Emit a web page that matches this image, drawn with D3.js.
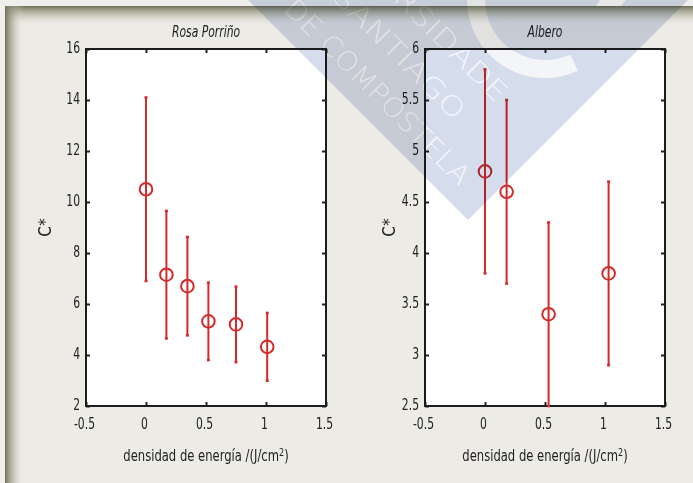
<!DOCTYPE html>
<html>
<head>
<meta charset="utf-8">
<script src="https://cdn.jsdelivr.net/npm/d3@7/dist/d3.min.js"></script>
<style>
  html, body { margin: 0; padding: 0; background: #ecebe6; }
  svg { display: block; }
</style>
</head>
<body>
<svg id="chart" width="693" height="483"></svg>
<script>
// Energy density (J/cm2) and chroma C* for each stone, with error half-widths
const energyRosa = [0, 0.17, 0.345, 0.52, 0.75, 1.01];
const chromaRosa = [10.5, 7.15, 6.7, 5.32, 5.2, 4.32];
const errRosa    = [3.6, 2.5, 1.93, 1.52, 1.48, 1.33];

const energyAlbero = [0, 0.18, 0.53, 1.03];
const chromaAlbero = [4.8, 4.6, 3.4, 3.8];
const errAlbero    = [1.0, 0.9, 0.9, 0.9];

const xTicks = [-0.5, 0, 0.5, 1, 1.5];
const yTicksRosa = [2, 4, 6, 8, 10, 12, 14, 16];
const yTicksAlbero = [2.5, 3, 3.5, 4, 4.5, 5, 5.5, 6];

const titles = ["Rosa Porriño", "Albero"];
const xLabel = "densidad de energía /(J/cm";
const yLabel = "C*";
const watermarkLines = ["UNIVERSIDADE", "DE SANTIAGO", "DE COMPOSTELA"];

(function draw() {
  const W = 693, H = 483;
  const RED = "#d42a2c";
  const INK = "#222";
  const FONT = '"Liberation Sans Narrow", "DejaVu Sans Condensed", "Arial Narrow", sans-serif';
  const SQUEEZE = 0.8;   // horizontal condensing of the label face

  const svg = d3.select("#chart");
  const defs = svg.append("defs");

  // page frame with soft inset shadow
  svg.append("rect").attr("width", W).attr("height", H).attr("fill", "#ecebe6");
  svg.append("rect").attr("width", W).attr("height", 6).attr("fill", "#efefeb");
  svg.append("rect").attr("width", 5).attr("height", H).attr("fill", "#efefeb");

  function shadow(id, horizontal) {
    const gr = defs.append("linearGradient").attr("id", id)
      .attr("x1", 0).attr("y1", 0).attr("x2", horizontal ? 1 : 0).attr("y2", horizontal ? 0 : 1);
    gr.append("stop").attr("offset", 0).attr("stop-color", "#6f6f58").attr("stop-opacity", 1);
    gr.append("stop").attr("offset", 0.15).attr("stop-color", "#86866f").attr("stop-opacity", 0.85);
    gr.append("stop").attr("offset", 0.5).attr("stop-color", "#a8a894").attr("stop-opacity", 0.45);
    gr.append("stop").attr("offset", 1).attr("stop-color", "#ecebe6").attr("stop-opacity", 0);
  }
  shadow("shTop", false);
  shadow("shLeft", true);
  svg.append("rect").attr("x", 5).attr("y", 6).attr("width", W - 5).attr("height", 20).attr("fill", "url(#shTop)");
  svg.append("rect").attr("x", 5).attr("y", 6).attr("width", 19).attr("height", H - 6).attr("fill", "url(#shLeft)");

  // the two panels
  const panels = [
    { title: titles[0], left: 86,  energy: energyRosa,   chroma: chromaRosa,   err: errRosa,
      yDomain: [2, 16],  yTicks: yTicksRosa,   yLabX: 51 },
    { title: titles[1], left: 425, energy: energyAlbero, chroma: chromaAlbero, err: errAlbero,
      yDomain: [2.5, 6], yTicks: yTicksAlbero, yLabX: 395 }
  ];
  const plotW = 240, plotTop = 49, plotBottom = 406, tickLen = 4;

  panels.forEach(p => {
    const x = d3.scaleLinear().domain([-0.5, 1.5]).range([p.left, p.left + plotW]);
    const y = d3.scaleLinear().domain(p.yDomain).range([plotBottom, plotTop]);
    const g = svg.append("g");

    g.append("rect").attr("x", x.range()[0]).attr("y", plotTop)
      .attr("width", plotW).attr("height", plotBottom - plotTop).attr("fill", "#fff");

    const fmt = d => String(d);

    // inward ticks on all four sides, labels on left and bottom
    const axL = g.append("g").attr("transform", `translate(${x.range()[0]},0)`)
      .call(d3.axisLeft(y).tickValues(p.yTicks).tickFormat(fmt).tickSize(-tickLen).tickPadding(6));
    const axB = g.append("g").attr("transform", `translate(0,${plotBottom})`)
      .call(d3.axisBottom(x).tickValues(xTicks).tickFormat(fmt).tickSize(-tickLen).tickPadding(12));
    const axR = g.append("g").attr("transform", `translate(${x.range()[1]},0)`)
      .call(d3.axisRight(y).tickValues(p.yTicks).tickFormat("").tickSize(-tickLen));
    const axT = g.append("g").attr("transform", `translate(0,${plotTop})`)
      .call(d3.axisTop(x).tickValues(xTicks).tickFormat("").tickSize(-tickLen));

    [axL, axB, axR, axT].forEach(a => {
      a.select(".domain").remove();
      a.selectAll(".tick line").attr("stroke", INK).attr("stroke-width", 2);
      a.selectAll(".tick text").attr("font-family", FONT).attr("font-size", 15).attr("fill", INK)
        .attr("transform", `scale(${SQUEEZE},1)`);
    });
    axL.selectAll(".tick text").attr("x", -6 / SQUEEZE).attr("dy", "0.25em");
    axB.selectAll(".tick text").attr("dx", -2 / SQUEEZE);

    g.append("rect").attr("x", x.range()[0]).attr("y", plotTop)
      .attr("width", plotW).attr("height", plotBottom - plotTop)
      .attr("fill", "none").attr("stroke", "#1c1c1c").attr("stroke-width", 2);

    // error bars and open circle markers
    const pts = p.energy.map((e, i) => ({ e, c: p.chroma[i], d: p.err[i] }));
    const eb = g.append("g");
    eb.selectAll("line.bar").data(pts).join("line").attr("class", "bar")
      .attr("x1", d => x(d.e)).attr("x2", d => x(d.e))
      .attr("y1", d => y(d.c + d.d)).attr("y2", d => y(d.c - d.d))
      .attr("stroke", RED).attr("stroke-width", 2);
    ["hi", "lo"].forEach(k => {
      eb.selectAll("line.cap" + k).data(pts).join("line").attr("class", "cap" + k)
        .attr("x1", d => x(d.e) - 1.5).attr("x2", d => x(d.e) + 1.5)
        .attr("y1", d => y(k === "hi" ? d.c + d.d : d.c - d.d))
        .attr("y2", d => y(k === "hi" ? d.c + d.d : d.c - d.d))
        .attr("stroke", RED).attr("stroke-width", 2.5);
    });
    eb.selectAll("circle").data(pts).join("circle")
      .attr("cx", d => x(d.e)).attr("cy", d => y(d.c)).attr("r", 6.3)
      .attr("fill", "none").attr("stroke", RED).attr("stroke-width", 2);

    // titles and axis labels
    const cx = (x.range()[0] + x.range()[1]) / 2;
    g.append("g").attr("transform", `translate(${cx},37) scale(${SQUEEZE},1)`)
      .append("text").attr("text-anchor", "middle").attr("font-size", 15)
      .attr("font-style", "italic").attr("font-family", FONT).attr("fill", INK).text(p.title);

    const xl = g.append("g").attr("transform", `translate(${cx},461) scale(0.86,1)`)
      .append("text").attr("text-anchor", "middle").attr("font-size", 15)
      .attr("font-family", FONT).attr("fill", INK);
    xl.append("tspan").text(xLabel);
    xl.append("tspan").attr("font-size", 10.5).attr("dy", -5).text("2");
    xl.append("tspan").attr("dy", 5).text(")");

    g.append("text")
      .attr("transform", `translate(${p.yLabX},${(plotTop + plotBottom) / 2}) rotate(-90)`)
      .attr("text-anchor", "middle").attr("font-size", 17).attr("font-family", FONT).attr("fill", INK)
      .text(yLabel);
  });

  // university emblem overlay, multiplied over the page
  const wm = svg.append("g").style("mix-blend-mode", "multiply").style("isolation", "isolate");
  wm.append("path")
    .attr("d", "M468,220 L228,-20 L708,-20 Z")
    .attr("fill", "#d5dcec");
  wm.append("path")
    .attr("transform", "translate(545,0)")
    .attr("d", d3.arc().innerRadius(60).outerRadius(78)
      .startAngle(Math.PI * 155 / 180).endAngle(Math.PI * 270 / 180)())
    .attr("fill", "#fff").attr("opacity", 0.7);
  wm.append("path").attr("d", "M600,0 L626,0 L621,6 L596,6 Z").attr("fill", "#fff").attr("opacity", 0.8);

  const wmEnds = [[503, 97], [461, 115], [466, 180]];
  const wmLens = [250, 232, 250];
  watermarkLines.forEach((t, i) => {
    wm.append("text")
      .attr("transform", `translate(${wmEnds[i][0]},${wmEnds[i][1]}) rotate(45)`)
      .attr("text-anchor", "end").attr("dominant-baseline", "central")
      .attr("font-family", '"DejaVu Sans", sans-serif').attr("font-weight", 200)
      .attr("font-size", 27).attr("fill", "#fff").attr("opacity", 0.75)
      .attr("textLength", wmLens[i]).attr("lengthAdjust", "spacingAndGlyphs")
      .text(t);
  });
})();
</script>
</body>
</html>
